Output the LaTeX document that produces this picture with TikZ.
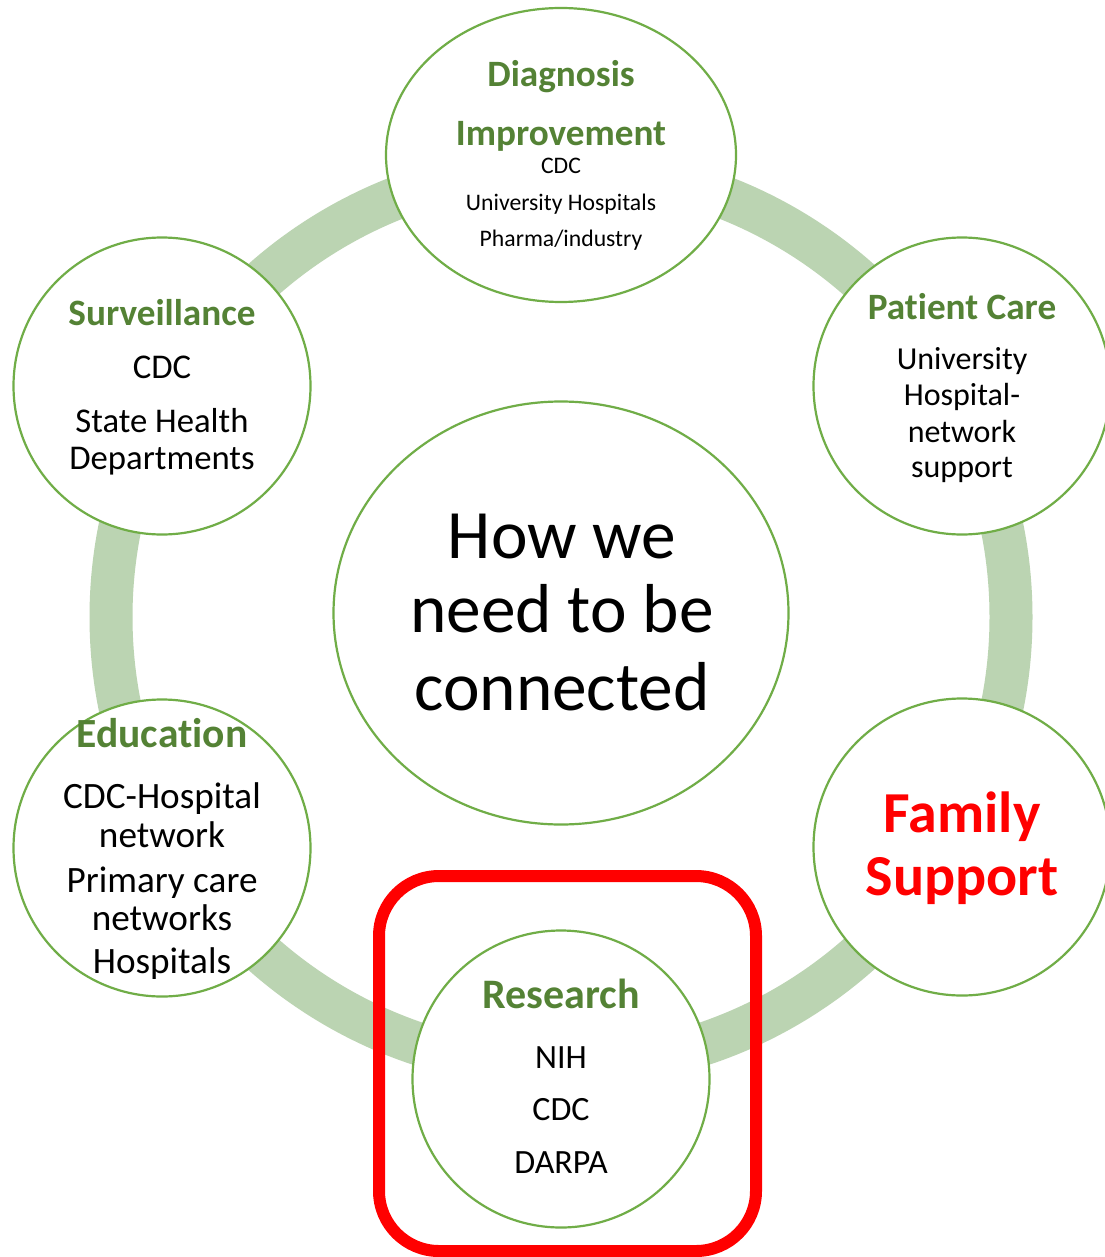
\documentclass[tikz,border=0pt]{standalone}
\usepackage{fontspec}
\setmainfont{Carlito}[Ligatures=NoCommon]
\usetikzlibrary{shapes.geometric}
\definecolor{ringgreen}{HTML}{BBD4B2}
\definecolor{edgegreen}{HTML}{70AD47}
\definecolor{titlegreen}{HTML}{548235}
\newcommand{\fs}[1]{\fontsize{#1}{#1}\selectfont}

\begin{document}
\begin{tikzpicture}[x=1pt, y=-1pt,
    main/.style = {draw=edgegreen, fill=white, circle, line width=2.2pt, minimum size=297pt, inner sep=0pt},
    oval/.style = {draw=edgegreen, fill=white, ellipse, line width=2.2pt, inner sep=0pt},
    title/.style = {anchor=base, inner sep=0pt, text=titlegreen, font=\bfseries\fs{37.2}},
    body/.style = {anchor=base, inner sep=0pt, font=\fs{34.7}},
    ring/.style = {draw=ringgreen, line width=43pt},
    box/.style = {draw=red, line width=12pt, rounded corners=60pt}]
    \fill[white] (0,0) rectangle (1104,1257);
    \useasboundingbox (0,0) rectangle (1104,1257);
    % ring and highlight box
    \coordinate (c) at (561,617);
    \draw[ring] (c) circle (450);
    \draw[box] (379,876) rectangle (756,1251);
    % circles
    \node[oval, minimum width=455pt, minimum height=423pt] (hub) at (561,613) {};
    \node[oval, minimum width=350pt, minimum height=294pt] (diag) at (561,155) {};
    \node[main] (surv) at (162,386) {};
    \node[main] (care) at (962,386) {};
    \node[main] (educ) at (162,848) {};
    \node[main] (family) at (962,847) {};
    \node[main] (research) at (561,1079) {};
    % hub text
    \node[body, font=\fs{69.3}] (hub-1) at (562,558) {How we};
    \node[body, font=\fs{69.3}] (hub-2) at (562,632) {need to be};
    \node[body, font=\fs{69.3}] (hub-3) at (562,710) {connected};
    % diagnosis
    \node[title] (diag-1) at (561,87) {Diagnosis};
    \node[title] (diag-2) at (561,146) {Improvement};
    \node[body, font=\fs{23.7}] (diag-3) at (561,174) {CDC};
    \node[body, font=\fs{23.7}] (diag-4) at (561,211) {University Hospitals};
    \node[body, font=\fs{23.7}] (diag-5) at (561,247) {Pharma/industry};
    % surveillance
    \node[title] (surv-1) at (162,325) {Surveillance};
    \node[body] (surv-2) at (162,378) {CDC};
    \node[body] (surv-3) at (162,432) {State Health};
    \node[body] (surv-4) at (162,469) {Departments};
    % patient care
    \node[title] (care-1) at (962,319) {Patient Care};
    \node[body, font=\fs{32}] (care-2) at (962,369) {University};
    \node[body, font=\fs{32}] (care-3) at (962,405) {Hospital-};
    \node[body, font=\fs{32}] (care-4) at (962,442) {network};
    \node[body, font=\fs{32}] (care-5) at (962,477) {support};
    % education
    \node[title, font=\bfseries\fs{41.5}] (educ-1) at (162,747) {Education};
    \node[body, font=\fs{37.2}] (educ-2) at (162,808) {CDC-Hospital};
    \node[body, font=\fs{37.2}] (educ-3) at (162,847) {network};
    \node[body, font=\fs{37.2}] (educ-4) at (162,892) {Primary care};
    \node[body, font=\fs{37.2}] (educ-5) at (162,930) {networks};
    \node[body, font=\fs{37.2}] (educ-6) at (162,973) {Hospitals};
    % family support
    \node[title, text=red, font=\bfseries\fs{58}] (family-1) at (962,832) {Family};
    \node[title, text=red, font=\bfseries\fs{58}] (family-2) at (962,895) {Support};
    % research
    \node[title, font=\bfseries\fs{42}] (research-1) at (561,1008) {Research};
    \node[body, font=\fs{34}] (research-2) at (561,1068) {NIH};
    \node[body, font=\fs{34}] (research-3) at (561,1120) {CDC};
    \node[body, font=\fs{34}] (research-4) at (561,1173) {DARPA};
\end{tikzpicture}
\end{document}
